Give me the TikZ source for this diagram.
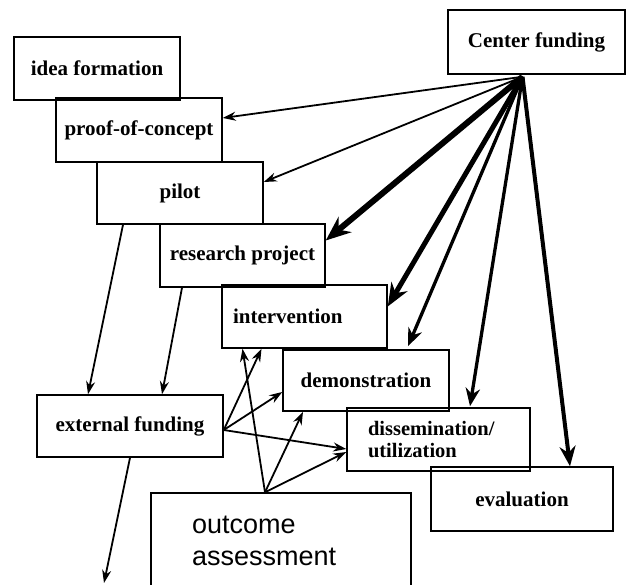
\documentclass[tikz,border=0pt]{standalone}
\usepackage{fontspec}
\setmainfont{Liberation Serif}
\newfontfamily\outfont{Liberation Sans}
\usetikzlibrary{arrows.meta}

\begin{document}
\begin{tikzpicture}[x=1pt,y=-1pt,
  stage/.style={draw, line width=1.5pt, rectangle, inner sep=0pt,
    font=\fontsize{21}{23}\selectfont\bfseries},
  lefttext/.style={align=left, inner xsep=#1},
  thin/.style={line width=1.8pt, -{Stealth[length=13pt,width=9pt]}},
  fund/.style 2 args={line width=#1, -{Stealth[length=#2,width=0.8*#2]}}]

\useasboundingbox (0,0) rectangle (634,585);
\clip (0,0) rectangle (634,585);

% project stages
\node[stage, minimum width=177pt, minimum height=64pt] (cf) at (536.5,42) {Center funding};
\node[stage, minimum width=166pt, minimum height=63pt] (idea) at (97,68.5) {idea formation};
\node[stage, minimum width=166pt, minimum height=64pt] (poc) at (139,130) {proof-of-concept};
\node[stage, minimum width=166pt, minimum height=62pt] (pilot) at (180,193) {pilot};
\node[stage, minimum width=165pt, minimum height=63pt] (rp) at (242.5,255.5) {research project};
\node[stage, lefttext=11pt, text width=143pt, minimum height=63pt] (int) at (304.5,316.5) {intervention};
\node[stage, minimum width=166pt, minimum height=61pt] (demo) at (366,380.5) {demonstration};
\node[stage, lefttext=21pt, text width=141pt, minimum height=63pt,
  font=\fontsize{20.5}{22}\selectfont\bfseries] (diss) at (438.5,439.5) {dissemination/\\utilization};
\node[stage, minimum width=182pt, minimum height=64pt] (eval) at (522,499) {evaluation};
\node[stage, minimum width=186pt, minimum height=62pt] (ext) at (130,426) {external funding};
\node[stage, lefttext=41pt, text width=178pt, minimum height=95pt,
  font=\outfont\fontsize{27}{32}\selectfont] (out) at (281,540.5) {outcome\\assessment};

% common source point under the Center funding box
\coordinate (src) at ([xshift=-14pt,yshift=-2pt]cf.south);
\coordinate (away) at (104,583);

% Center funding
\draw[thin] (src) -- ([yshift=12pt]poc.east);
\draw[thin] (src) -- ([yshift=11pt]pilot.east);
\draw[fund={6pt}{25pt}] (src) -- ([yshift=15pt]rp.east);
\draw[fund={5pt}{23pt}] (src) -- ([yshift=10pt]int.east);
\draw[fund={3.3pt}{18pt}] (src) -- ([xshift=42pt,yshift=3pt]demo.north);
\draw[fund={3.3pt}{18pt}] (src) -- ([xshift=31.5pt,yshift=1pt]diss.north);
\draw[fund={4pt}{20pt}] (src) -- ([xshift=48pt]eval.north);

% external funding
\draw[thin] ([xshift=-57pt]pilot.south) -- ([xshift=-42pt]ext.north);
\draw[thin] ([xshift=-60.5pt]rp.south) -- ([xshift=32pt]ext.north);
\draw[thin] ([yshift=-4pt]ext.east) -- ([xshift=-43pt]int.south);
\draw[thin] ([yshift=-4pt]ext.east) -- ([yshift=-11.5pt]demo.west);
\draw[thin] ([yshift=-4pt]ext.east) -- ([yshift=-9.5pt]diss.west);
\draw[thin] (ext.south) -- (away);

% outcome assessment
\draw[thin] ([xshift=-16pt]out.north) -- ([xshift=-62pt]int.south);
\draw[thin] ([xshift=-16pt]out.north) -- ([xshift=-63pt]demo.south);
\draw[thin] ([xshift=-16pt]out.north) -- ([yshift=-12.5pt]diss.west);
\end{tikzpicture}
\end{document}
